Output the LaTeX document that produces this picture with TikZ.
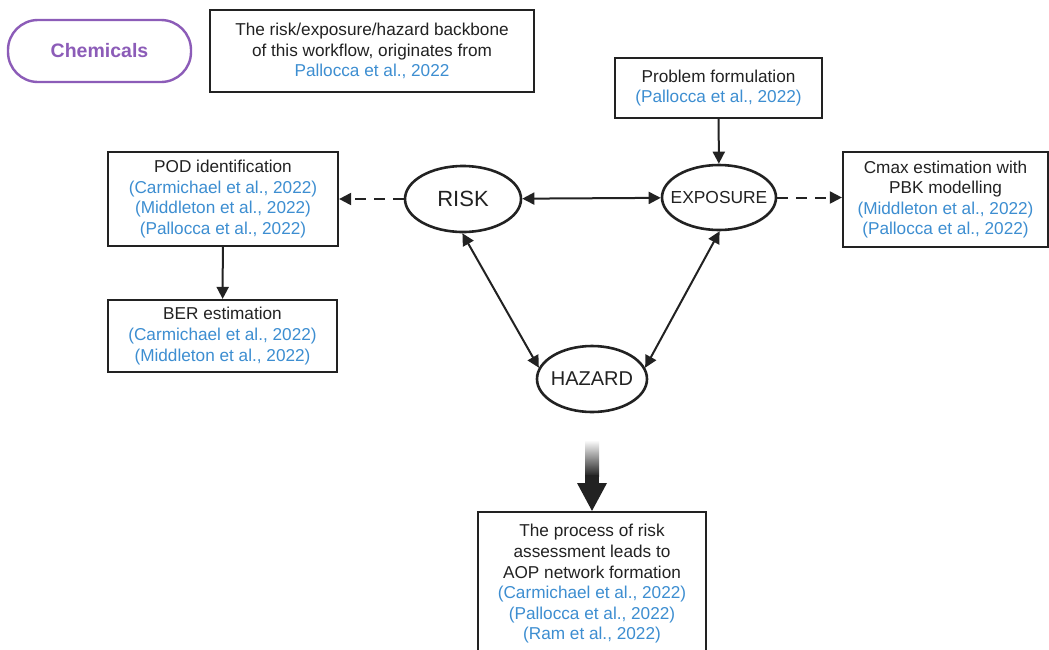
\documentclass[tikz,border=0pt]{standalone}
\usepackage{fontspec}
\setmainfont{Liberation Sans}
\usetikzlibrary{shapes.geometric,arrows.meta,calc}
\definecolor{cite}{RGB}{61,142,209}
\definecolor{ink}{RGB}{34,34,34}
\definecolor{chem}{RGB}{140,92,184}
\tikzset{
  box/.style={draw=ink,line width=2.2pt,rectangle,align=center,text=ink,inner sep=0pt,
    font=\fontsize{17.2}{20.6}\selectfont},
  oval/.style={draw=ink,line width=2.6pt,ellipse,inner sep=0pt,text=ink},
  link/.style={draw=ink,line width=2pt,-{Triangle[length=12pt,width=12pt]}},
  twoway/.style={draw=ink,line width=2pt,{Triangle[length=12pt,width=12pt]}-{Triangle[length=12pt,width=12pt]}},
  dashlink/.style={link,dash pattern=on 11pt off 8pt}
}
\newcommand{\cit}[1]{\textcolor{cite}{#1}}
% label set in a zero-width box so the ellipse keeps its given size
\newcommand{\ovaltext}[1]{\makebox[0pt]{#1}}
\begin{document}
\begin{tikzpicture}[x=1pt,y=-1pt]
\useasboundingbox (0,0) rectangle (1049,649);
\fill[white] (0,0) rectangle (1049,649);

% title pill and source note
\node[draw=chem,line width=2.4pt,rounded corners=30pt,minimum width=183pt,minimum height=62pt,
  text=chem,font=\fontsize{19.5}{22}\selectfont\bfseries] (chem) at (99.5,51) {Chemicals};
\node[box,minimum width=324pt,minimum height=82pt] (note) at (372,51)
  {The risk/exposure/hazard backbone\\of this workflow, originates from\\\cit{Pallocca et al., 2022}};

% core triangle
\node[oval,minimum width=116pt,minimum height=66pt,font=\fontsize{22}{24}\selectfont] (risk) at (463,199) {\ovaltext{RISK}};
\node[oval,minimum width=114pt,minimum height=65pt,font=\fontsize{17.4}{20}\selectfont] (expo) at (719,197.5) {\ovaltext{EXPOSURE}};
\node[oval,minimum width=110pt,minimum height=66pt,font=\fontsize{20}{22}\selectfont] (haz) at (592,379) {\ovaltext{HAZARD}};

% surrounding boxes
\node[box,minimum width=207pt,minimum height=60pt] (prob) at (718.5,88)
  {Problem formulation\\\cit{(Pallocca et al., 2022)}};
\node[box,minimum width=230pt,minimum height=94pt] (pod) at (223,199)
  {POD identification\\\cit{(Carmichael et al., 2022)}\\\cit{(Middleton et al., 2022)}\\\cit{(Pallocca et al., 2022)}};
\node[box,minimum width=229pt,minimum height=72pt] (ber) at (222.5,336)
  {BER estimation\\\cit{(Carmichael et al., 2022)}\\\cit{(Middleton et al., 2022)}};
\node[box,minimum width=205pt,minimum height=95pt] (cmax) at (945.5,199.5)
  {Cmax estimation with\\PBK modelling\\\cit{(Middleton et al., 2022)}\\\cit{(Pallocca et al., 2022)}};
\node[box,minimum width=228pt,minimum height=144pt] (aop) at (592,584)
  {The process of risk\\assessment leads to\\AOP network formation\\\cit{(Carmichael et al., 2022)}\\\cit{(Pallocca et al., 2022)}\\\cit{(Ram et al., 2022)}};

% connectors
\draw[twoway] (risk) -- (expo);
\draw[twoway] (risk.-91) -- (haz.168);
\draw[twoway] (expo.-89) -- (haz.12);
\draw[link] (prob) -- (expo);
\draw[link] (pod) -- (ber);
\draw[dashlink] (risk.west) -- (pod.east |- risk.west);
\draw[dashlink] (expo.east) -- (cmax.west |- expo.east);

% fading arrow from the triangle down to the outcome
\coordinate (fadetop) at (592,440);
\shade[top color=white,bottom color=ink] ($(fadetop)+(-7,0)$) rectangle ($(fadetop)+(7,36)$);
\fill[ink] ($(fadetop)+(-7,35)$) rectangle ($(fadetop)+(7,44)$);
\fill[ink] ($(fadetop)+(-15,43)$) -- ($(fadetop)+(15,43)$) -- (aop.north) -- cycle;
\end{tikzpicture}
\end{document}
